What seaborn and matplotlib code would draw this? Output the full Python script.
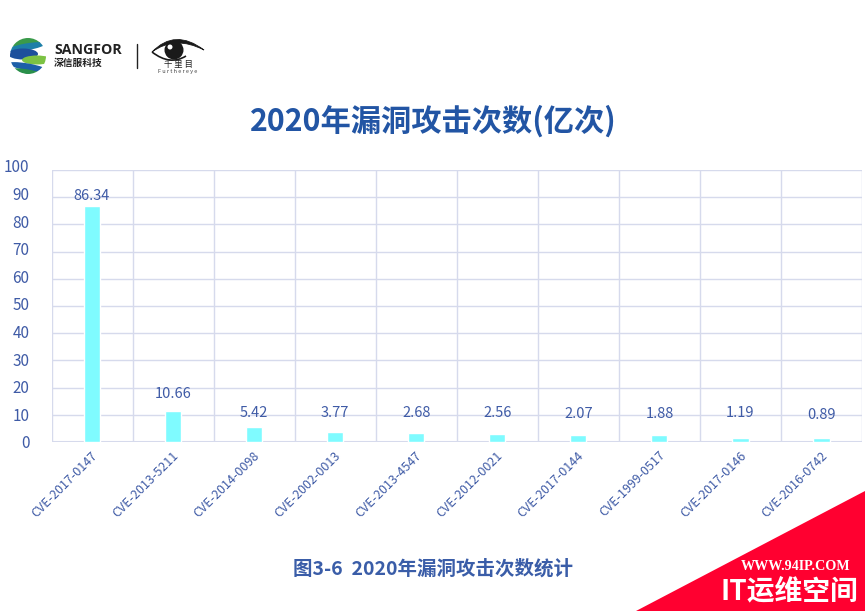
import matplotlib
matplotlib.use("Agg")
import matplotlib.pyplot as plt
from matplotlib.patches import Polygon, Circle, Ellipse, PathPatch
from matplotlib.path import Path
from matplotlib.transforms import ScaledTranslation
import seaborn as sb
import pandas as pd

sb.set_theme(style="white")
plt.rcParams['font.family'] = ['Noto Sans CJK SC', 'DejaVu Sans']

cves = ["CVE-2017-0147", "CVE-2013-5211", "CVE-2014-0098", "CVE-2002-0013", "CVE-2013-4547",
        "CVE-2012-0021", "CVE-2017-0144", "CVE-1999-0517", "CVE-2017-0146", "CVE-2016-0742"]
counts = [86.34, 10.66, 5.42, 3.77, 2.68, 2.56, 2.07, 1.88, 1.19, 0.89]
# bars as drawn in the picture, a bit off the printed numbers
bar_heights = [86.8, 11.4, 5.6, 3.8, 3.3, 2.8, 2.5, 2.4, 1.3, 1.3]
yticks = [0, 10, 20, 30, 40, 50, 60, 70, 80, 90, 100]

W, H = 865, 611
blue = "#3f5ba6"
grid = "#d6daec"
fig = plt.figure(figsize=(W/100, H/100), dpi=100, facecolor="white")
ax = fig.add_axes([51.5/W, 1-442/H, (862-51.5)/W, (442-170)/H])

df = pd.DataFrame({"cve": cves, "height": bar_heights})
sb.barplot(data=df, x="cve", y="height", color="#7ffbff", saturation=1, width=0.2, ax=ax, zorder=3)
ax.set_xlim(-0.5, 9.5)
ax.set_ylim(0, 100)
ax.set_xlabel("")
ax.set_ylabel("")
ax.set_yticks(yticks)
ax.tick_params(axis='y', length=0, pad=16, labelsize=11, labelcolor=blue)
# the y labels run slightly wider apart than the grid
for t, v in zip(ax.get_yticklabels(), yticks):
    t.set_transform(t.get_transform() + ScaledTranslation(0, 0.04*v/100, fig.dpi_scale_trans))
ax.set_xticks(range(10))
ax.set_xticklabels(cves, rotation=45, ha="right", rotation_mode="anchor", fontsize=9, color=blue)
ax.tick_params(axis='x', length=0, pad=5)
for t in ax.get_xticklabels():
    t.set_transform(t.get_transform() + ScaledTranslation(-0.01, 0, fig.dpi_scale_trans))
ax.grid(axis='y', color=grid, lw=1)
for x in range(11):
    ax.axvline(x-0.5, color=grid, lw=1, zorder=1)
for s in ax.spines.values():
    s.set_visible(False)
ax.axhline(0, color=grid, lw=1.5, zorder=2)
label_levels = [90.4, 17.6, 10.7, 10.7, 10.7, 10.7, 10.4, 10.4, 10.7, 10.0]
for i, v in enumerate(counts):
    ax.text(i, label_levels[i], f"{v:.2f}", ha="center", va="center", fontsize=10.5, color=blue, zorder=4)

# overlay in pixel coords for title, logos, corner
ov = fig.add_axes([0, 0, 1, 1], zorder=5)
ov.set_xlim(0, W)
ov.set_ylim(H, 0)
ov.axis("off")
ov.patch.set_alpha(0)

ov.text(433, 121, "2020年漏洞攻击次数(亿次)", ha="center", va="center", fontsize=21.8, fontweight="bold", color="#2255a4")
ov.text(433, 569, "图3-6  2020年漏洞攻击次数统计", ha="center", va="center", fontsize=14, fontweight="bold", color="#3a5da8")

# sangfor globe
clip = Circle((28, 56), 18, transform=ov.transData)
bands = [(28, 41, 40, 10, -10, "#3a9a4a"), (26, 47, 40, 7, -10, "#1d7fa8"), (23, 54, 30, 11, 0, "#1d4f9c"),
         (37, 60, 30, 9, 0, "#7cc243"), (28, 67, 40, 7, 10, "#1d5fa8"), (28, 72, 32, 5, 10, "#2a8f4a")]
for cx, cy, w, h, ang, col in bands:
    e = Ellipse((cx, cy), w, h, angle=ang, color=col, lw=0)
    ov.add_patch(e)
    e.set_clip_path(clip)
ov.text(54, 50.5, "SANGFOR", fontsize=10.2, fontweight="bold", color="#222222", va="center", family=['Open Sans', 'DejaVu Sans'])
ov.text(54, 63, "深信服科技", fontsize=7, fontweight="bold", color="#222222", va="center")
ov.plot([136.5, 136.5], [44, 68], color="#222222", lw=1)

# eye logo
ov.add_patch(PathPatch(Path([(152, 52), (175, 28), (204, 50), (175, 35), (152, 52)],
                            [Path.MOVETO, Path.CURVE3, Path.CURVE3, Path.CURVE3, Path.CURVE3]),
                       facecolor="#1a1a1a", edgecolor="#1a1a1a", lw=0.6))
ov.add_patch(PathPatch(Path([(152, 52), (170, 66), (186, 56)], [Path.MOVETO, Path.CURVE3, Path.CURVE3]),
                       facecolor="none", edgecolor="#1a1a1a", lw=1.2))
ov.add_patch(Circle((174, 50), 9.5, color="#1a1a1a", lw=0))
ov.add_patch(Circle((170, 47), 2.5, color="white", lw=0))
ov.text(178, 65, "千 里 目", fontsize=6, color="#222222", ha="center", va="center")
ov.text(178, 72, "F u r t h e r e y e", fontsize=4, color="#444444", ha="center", va="center")

# corner
ov.add_patch(Polygon([(636, 611), (865, 491), (865, 611)], closed=True, color="#ff0030", lw=0))
ov.text(796, 566.5, "WWW.94IP.COM", fontsize=10.2, fontweight="bold", color="white", ha="center", va="center", family=['Liberation Serif', 'DejaVu Serif'])
ov.text(789, 591, "IT运维空间", fontsize=20, fontweight="bold", color="white", ha="center", va="center")

fig.savefig("out.png", dpi=100)
